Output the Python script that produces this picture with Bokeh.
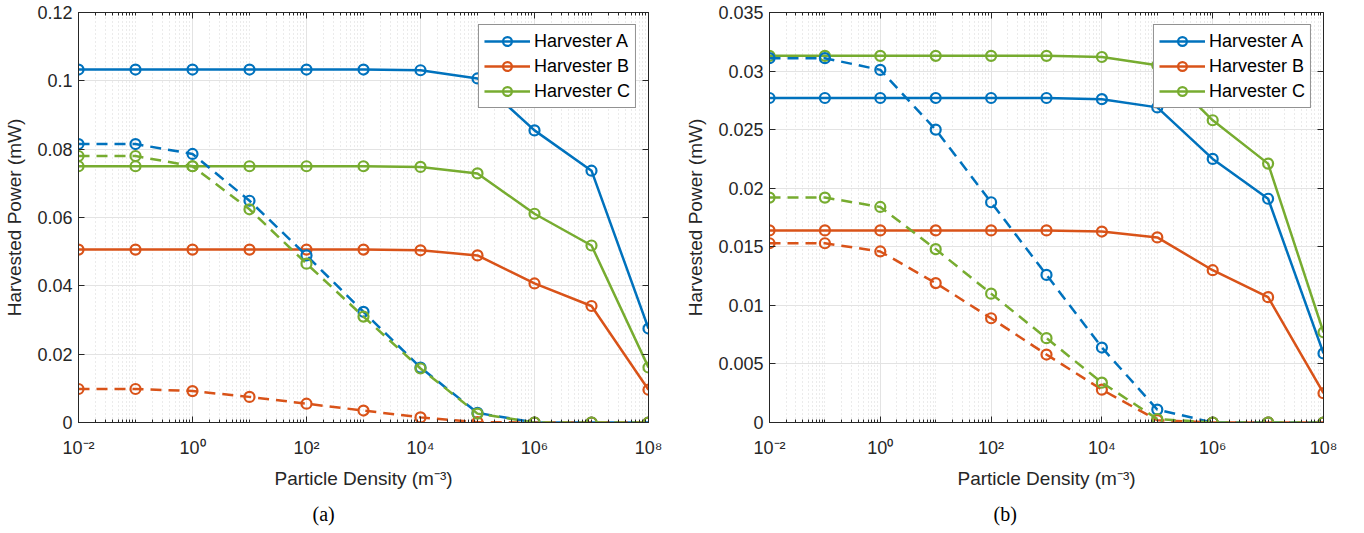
from bokeh.plotting import figure
from bokeh.layouts import row
from bokeh.models import FixedTicker, LogAxis, LinearAxis, Title, Legend, LegendItem
from bokeh.embed import file_html
from bokeh.resources import INLINE

# ---------------- data ----------------
density = [1e-2, 1e-1, 1e0, 1e1, 1e2, 1e3, 1e4, 1e5, 1e6, 1e7, 1e8]

# panel (a)
a_A_solid = [0.1033, 0.1033, 0.1033, 0.1033, 0.1033, 0.1033, 0.1031, 0.1007, 0.0855, 0.0737, 0.0275]
a_B_solid = [0.0506, 0.0506, 0.0506, 0.0506, 0.0506, 0.0506, 0.0504, 0.0489, 0.0407, 0.0341, 0.0096]
a_C_solid = [0.0750, 0.0750, 0.0750, 0.0750, 0.0750, 0.0750, 0.0748, 0.0729, 0.0611, 0.0518, 0.0161]
a_A_dash = [0.0815, 0.0815, 0.0786, 0.0649, 0.0489, 0.0324, 0.0161, 0.0028, 0.0, 0.0, 0.0]
a_B_dash = [0.0098, 0.0098, 0.0092, 0.0075, 0.0055, 0.0035, 0.0015, 0.0001, 0.0, 0.0, 0.0]
a_C_dash = [0.0780, 0.0780, 0.0750, 0.0624, 0.0465, 0.0310, 0.0158, 0.0026, 0.0, 0.0, 0.0]

# panel (b)
b_A_solid = [0.0277, 0.0277, 0.0277, 0.0277, 0.0277, 0.0277, 0.0276, 0.0269, 0.0225, 0.0191, 0.0059]
b_B_solid = [0.0164, 0.0164, 0.0164, 0.0164, 0.0164, 0.0164, 0.0163, 0.0158, 0.0130, 0.0107, 0.0025]
b_C_solid = [0.0313, 0.0313, 0.0313, 0.0313, 0.0313, 0.0313, 0.0312, 0.0305, 0.0258, 0.0221, 0.0077]
b_A_dash = [0.0311, 0.0311, 0.0301, 0.0250, 0.0188, 0.0126, 0.0064, 0.0011, 0.0, 0.0, 0.0]
b_B_dash = [0.0153, 0.0153, 0.0146, 0.0119, 0.0089, 0.0058, 0.0028, 0.0002, 0.0, 0.0, 0.0]
b_C_dash = [0.0192, 0.0192, 0.0184, 0.0148, 0.0110, 0.0072, 0.0034, 0.0003, 0.0, 0.0, 0.0]

series_names = ["Harvester A", "Harvester B", "Harvester C"]

x_ticks = [1e-2, 1e0, 1e2, 1e4, 1e6, 1e8]
x_tick_labels = ["10\u207b\u00b2", "10\u2070", "10\u00b2", "10\u2074", "10\u2076", "10\u2078"]

a_y_ticks = [0.0, 0.02, 0.04, 0.06, 0.08, 0.1, 0.12]
a_y_labels = ["0", "0.02", "0.04", "0.06", "0.08", "0.1", "0.12"]
b_y_ticks = [0.0, 0.005, 0.01, 0.015, 0.02, 0.025, 0.03, 0.035]
b_y_labels = ["0", "0.005", "0.01", "0.015", "0.02", "0.025", "0.03", "0.035"]

x_label = "Particle Density (m\u207b\u00b3)"
y_label = "Harvested Power (mW)"

# ---------------- style ----------------
COLORS = ["#0072BD", "#D95319", "#77AC30"]
TXT = "#262626"
FONT = "Liberation Sans"
DASH = "11 7"

minor_x = []
for d in range(-2, 8):
    for k in range(1, 10):
        v = k * 10.0 ** d
        if k == 1 and d % 2 == 0:
            continue
        minor_x.append(v)


def make_panel(solids, dashes, yticks, ylabels, ymax, caption, fw, fh,
               bl, br, bt, bb, cap_offset):
    p = figure(x_axis_type="log", x_range=(1e-2, 1e8), y_range=(0, ymax),
               width=bl + fw + br, height=bt + fh + bb,
               min_border_left=bl, min_border_right=br,
               min_border_top=bt, min_border_bottom=bb,
               output_backend="svg", toolbar_location=None)
    p.outline_line_color = TXT
    p.outline_line_width = 1
    p.background_fill_color = "white"
    p.border_fill_color = "white"

    xt = FixedTicker(ticks=x_ticks, minor_ticks=minor_x)
    yt = FixedTicker(ticks=yticks, minor_ticks=[])

    xa = p.xaxis[0]
    xa.ticker = xt
    xa.major_label_overrides = {t: l for t, l in zip(x_ticks, x_tick_labels)}
    xa.axis_label = x_label
    ya = p.yaxis[0]
    ya.ticker = yt
    ya.major_label_overrides = {t: l for t, l in zip(yticks, ylabels)}
    ya.axis_label = y_label

    for ax in (xa, ya):
        ax.axis_line_color = TXT
        ax.major_tick_line_color = TXT
        ax.minor_tick_line_color = TXT
        ax.major_tick_in = 6
        ax.major_tick_out = 0
        ax.minor_tick_in = 3
        ax.minor_tick_out = 0
        ax.major_label_text_font = FONT
        ax.major_label_text_font_size = "18px"
        ax.major_label_text_color = TXT
        ax.axis_label_text_font = FONT
        ax.axis_label_text_font_size = "19px"
        ax.axis_label_text_font_style = "normal"
        ax.axis_label_text_color = TXT
    xa.major_label_standoff = 15
    xa.axis_label_standoff = 7
    ya.major_label_standoff = 6
    ya.axis_label_standoff = 9

    top = LogAxis(ticker=xt, major_label_text_font_size="1px", major_label_text_alpha=0.0,
                  major_tick_in=6, major_tick_out=0, minor_tick_in=3, minor_tick_out=0,
                  axis_line_color=TXT, major_tick_line_color=TXT, minor_tick_line_color=TXT,
                  major_label_standoff=0)
    right = LinearAxis(ticker=yt, major_label_text_font_size="1px", major_label_text_alpha=0.0,
                       major_tick_in=6, major_tick_out=0, minor_tick_in=0, minor_tick_out=0,
                       axis_line_color=TXT, major_tick_line_color=TXT,
                       major_label_standoff=0)
    p.add_layout(top, "above")
    p.add_layout(right, "right")

    p.xgrid.grid_line_color = "#e3e3e3"
    p.ygrid.grid_line_color = "#e3e3e3"
    p.xgrid.minor_grid_line_color = "#d6d6d6"
    p.xgrid.minor_grid_line_dash = "1 3"
    p.ygrid.minor_grid_line_color = None

    items = []
    for ys, c, name in zip(solids, COLORS, series_names):
        l = p.line(density, ys, line_color=c, line_width=2.5)
        s = p.scatter(density, ys, marker="circle", size=10, fill_color=None,
                      line_color=c, line_width=2.2)
        items.append(LegendItem(label=name, renderers=[l, s]))
    for ys, c in zip(dashes, COLORS):
        p.line(density, ys, line_color=c, line_width=2.5, line_dash=DASH)
        p.scatter(density, ys, marker="circle", size=10, fill_color=None,
                  line_color=c, line_width=2.2)

    leg = Legend(items=items, location="top_right")
    leg.margin = 12
    leg.padding = 5
    leg.spacing = 3
    leg.glyph_width = 46
    leg.glyph_height = 22
    leg.label_height = 22
    leg.label_standoff = 4
    leg.label_text_font = FONT
    leg.label_text_font_size = "18px"
    leg.label_text_color = "#000000"
    leg.border_line_color = TXT
    leg.border_line_width = 1
    leg.background_fill_color = "white"
    leg.background_fill_alpha = 1.0
    p.add_layout(leg, "center")

    cap = Title(text=caption, align="left", offset=cap_offset,
                text_font="Liberation Serif", text_font_size="20px",
                text_font_style="normal", text_color="#000000", standoff=18)
    p.add_layout(cap, "below")
    return p


pa = make_panel([a_A_solid, a_B_solid, a_C_solid], [a_A_dash, a_B_dash, a_C_dash],
                a_y_ticks, a_y_labels, 0.12, "(a)", 570, 412,
                78, 34, 11, 110, 234)
pb = make_panel([b_A_solid, b_B_solid, b_C_solid], [b_A_dash, b_B_dash, b_C_dash],
                b_y_ticks, b_y_labels, 0.035, "(b)", 559, 413,
                82, 41, 12, 108, 224)

layout = row(pa, pb)
open("out.html", "w").write(file_html(layout, INLINE))
